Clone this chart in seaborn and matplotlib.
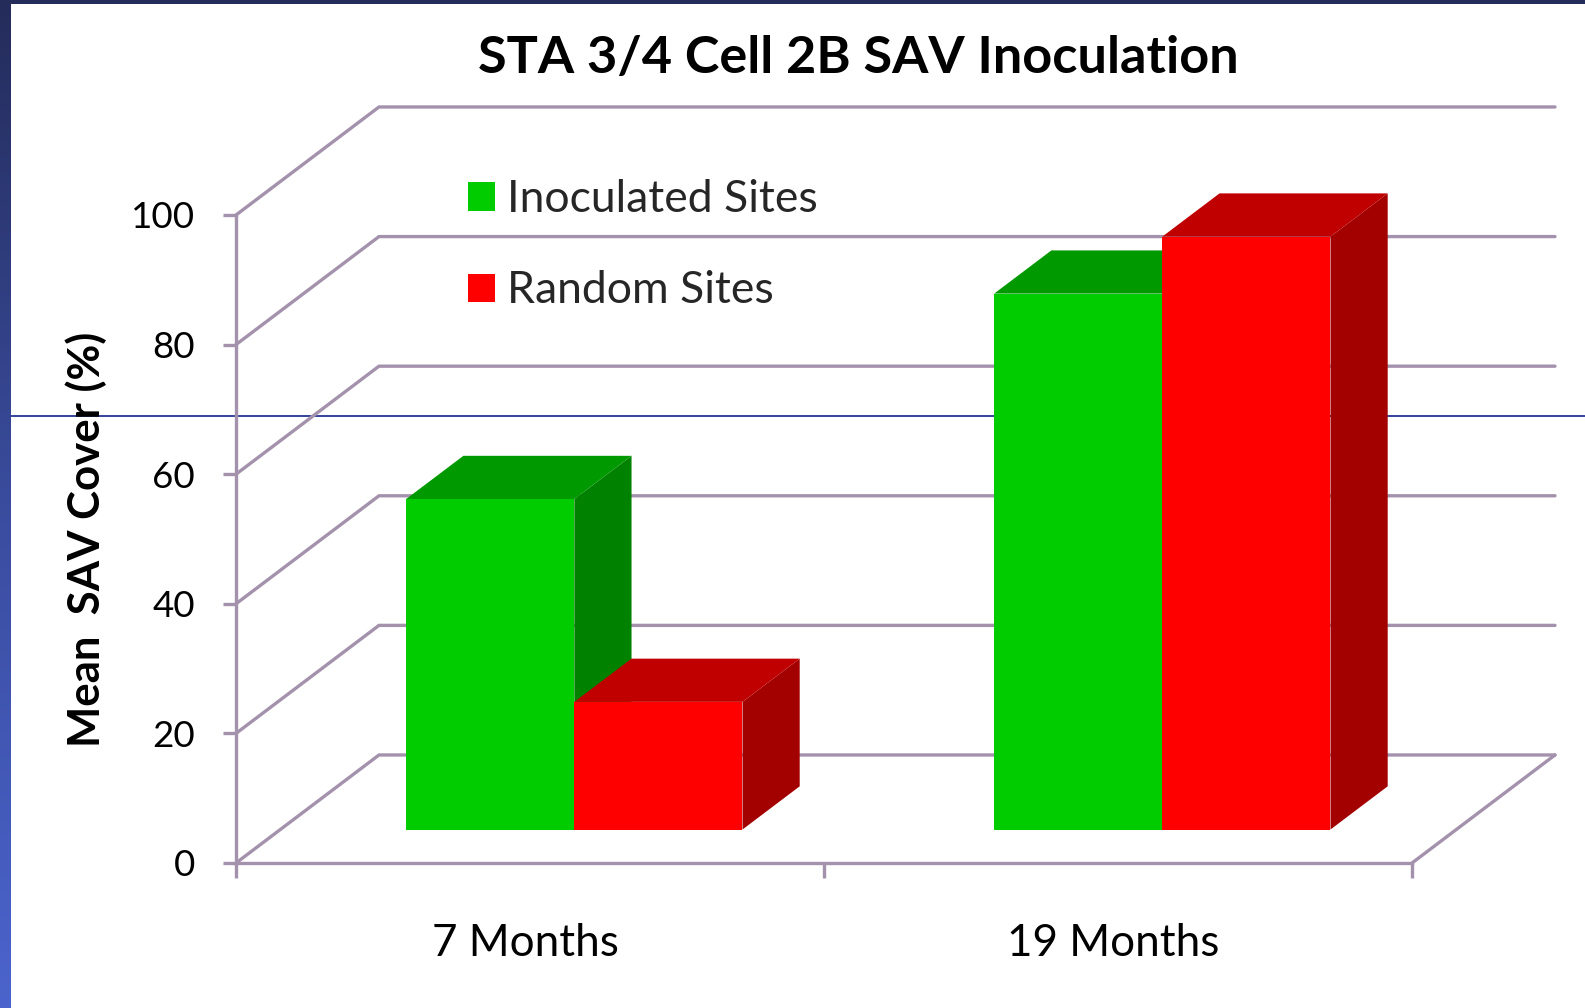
import numpy as np
import pandas as pd
import matplotlib
matplotlib.use("Agg")
import matplotlib.pyplot as plt
from matplotlib.transforms import Affine2D, ScaledTranslation
from matplotlib.patches import Polygon
import seaborn as sns

# -----------------------------------------------------------------------------
# data
# -----------------------------------------------------------------------------
periods = ["7 Months", "19 Months"]
sites = ["Inoculated Sites", "Random Sites"]
inoculated = [51, 82.7]
random_sites = [19.7, 91.5]
y_ticks = [0, 20, 40, 60, 80, 100]

title = "STA 3/4 Cell 2B SAV Inoculation"
y_label = "Mean  SAV Cover (%)"

# colours: front face, top face, side face per site
front_cols = ["#00CC00", "#FF0000"]
top_cols = ["#009A00", "#C00000"]
side_cols = ["#008200", "#A30000"]
grid_col = "#A492AD"

df = pd.DataFrame({
    "period": periods * 2,
    "site": [sites[0]] * 2 + [sites[1]] * 2,
    "cover": inoculated + random_sites,
})

# -----------------------------------------------------------------------------
# figure setup
# -----------------------------------------------------------------------------
sns.set_theme(style="white")
plt.rcParams["font.family"] = ["Lato", "DejaVu Sans"]

W, H = 1585, 1008
fig = plt.figure(figsize=(W / 100, H / 100), dpi=100)
fig.patch.set_facecolor("white")

# slide decoration (blue strip on the left, dark top edge, thin rule)
bg = fig.add_axes([0, 0, 1, 1], zorder=-10)
bg.set_xlim(0, W)
bg.set_ylim(H, 0)
bg.axis("off")
grad = np.linspace(0, 1, 256).reshape(-1, 1)
strip_cmap = matplotlib.colors.LinearSegmentedColormap.from_list("strip", ["#242C5A", "#3A4C9E", "#4B64CD"])
bg.imshow(grad, extent=(0, 11, H, 0), cmap=strip_cmap, aspect="auto")
bg.fill_between([0, W], 0, 4, color="#242C5A", lw=0)
bg.plot([11, W], [416, 416], color="#34439A", lw=1.4)

# axes = front plane of the 3d box
ax = fig.add_axes([236 / W, 1 - 863 / H, 1176 / W, 648 / H], zorder=1)
ax.set_facecolor("none")

# depth of the box, in data units (x: categories, y: percent)
DX = 143 / 588
DY = 16.67
D_FRONT, D_BACK = 0.31, 0.71

sns.barplot(data=df, x="period", y="cover", hue="site", hue_order=sites,
            palette=front_cols, saturation=1, width=0.572, errorbar=None,
            linewidth=0, ax=ax)

ax.set_xlim(-0.5, 1.5)
ax.set_ylim(0, 100)

# turn flat bars into blocks
shift = Affine2D().translate(D_FRONT * DX, D_FRONT * DY) + ax.transData
dd = D_BACK - D_FRONT
blocks = []
for i, cont in enumerate(ax.containers):
    for bar in cont:
        blocks.append((bar.get_x(), bar, i))
blocks.sort(key=lambda b: b[0])
for k, (x0, bar, i) in enumerate(blocks):
    w = bar.get_width()
    h = bar.get_height()
    z = 3 + k
    side = Polygon([(x0 + w, 0), (x0 + w + dd * DX, dd * DY),
                    (x0 + w + dd * DX, h + dd * DY), (x0 + w, h)],
                   closed=True, facecolor=side_cols[i], lw=0, transform=shift,
                   clip_on=False, zorder=z)
    top = Polygon([(x0, h), (x0 + w, h), (x0 + w + dd * DX, h + dd * DY),
                   (x0 + dd * DX, h + dd * DY)],
                  closed=True, facecolor=top_cols[i], lw=0, transform=shift,
                  clip_on=False, zorder=z)
    ax.add_patch(side)
    ax.add_patch(top)
    bar.set_transform(shift)
    bar.set_clip_on(False)
    bar.set_zorder(z + 0.5)

# back wall + floor lines
x_lo, x_hi = ax.get_xlim()
for v in y_ticks:
    ax.plot([x_lo, x_lo + DX, x_hi + DX], [v, v + DY, v + DY],
            color=grid_col, lw=2.4, clip_on=False, zorder=1, solid_joinstyle="miter")
ax.plot([x_hi, x_hi + DX], [0, DY], color=grid_col, lw=2.4, clip_on=False, zorder=1)

# front axes
for s in ["top", "right"]:
    ax.spines[s].set_visible(False)
for s in ["left", "bottom"]:
    ax.spines[s].set_color(grid_col)
    ax.spines[s].set_linewidth(2.4)
    ax.spines[s].set_zorder(2)

ax.set_yticks(y_ticks)
ax.set_xticks([-0.5, 0.5, 1.5], minor=True)
ax.tick_params(axis="y", which="major", direction="out", length=9.4, width=2.4,
               color=grid_col, pad=20, labelsize=26.5, labelcolor="black", left=True)
ax.tick_params(axis="x", which="major", length=0, pad=43, labelsize=31.7, labelcolor="black")
ax.tick_params(axis="x", which="minor", direction="out", length=10.8, width=2.4,
               color=grid_col, bottom=True)
# category labels sit a touch left of the category centres
nudge = ScaledTranslation(-5 / 100, 0, fig.dpi_scale_trans)
for lab in ax.get_xticklabels():
    lab.set_transform(lab.get_transform() + nudge)

ax.set_xlabel("")
ax.set_ylabel(y_label, fontsize=31.5, fontweight="bold", color="black")
ax.yaxis.set_label_coords(-0.11, 0.5)

# legend
leg = ax.get_legend()
handles = leg.legend_handles
labels = [t.get_text() for t in leg.get_texts()]
leg.remove()
for hd in handles:
    hd.set_linewidth(0)
ax.legend(handles, labels, loc="upper left", bbox_to_anchor=(468 / W, 1 - 179 / H),
          bbox_transform=fig.transFigure, frameon=False, fontsize=32,
          handlelength=0.61, handleheight=0.61, handletextpad=0.26,
          labelspacing=1.135, borderpad=0, borderaxespad=0)

fig.text(858 / W, 1 - 58 / H, title, ha="center", va="center",
         fontsize=37.6, fontweight="bold", color="black")

fig.savefig("out.png", dpi=100)
